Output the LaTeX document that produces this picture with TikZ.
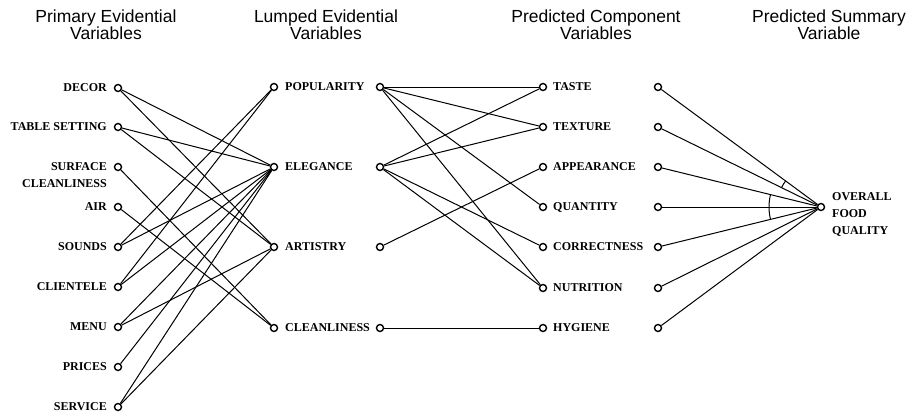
\documentclass[tikz,border=0pt]{standalone}
\usepackage{fontspec}
\setmainfont{Liberation Serif}
\newfontfamily\headfont{Liberation Sans}
\begin{document}
\begin{tikzpicture}[x=1pt,y=1pt,
  dot/.style={circle,draw,line width=1.4pt,minimum size=7pt,inner sep=0pt},
  lab/.style={font=\bfseries\fontsize{12}{17}\selectfont,inner sep=0pt},
  head/.style={font=\headfont\fontsize{17.5}{16}\selectfont,align=center,inner sep=0pt},
  edge/.style={line width=1pt},
  arcmark/.style={line width=1pt}]
\useasboundingbox (0,0) rectangle (916,-416);
% headings
\node[head] (h1) at (106,-25) {Primary Evidential\\Variables};
\node[head] (h2) at (326,-25) {Lumped Evidential\\Variables};
\node[head] (h3) at (596,-25) {Predicted Component\\Variables};
\node[head] (h4) at (829,-25) {Predicted Summary\\Variable};
% column 1
\foreach \n/\y in {p1/88,p2/127,p3/167,p4/207,p5/247,p6/287,p7/327,p8/367,p9/407}
  \node[dot] (\n) at (118,-\y) {};
\node[lab,anchor=east] (t1) at (107,-88) {DECOR};
\node[lab,anchor=east] (t2) at (107,-127) {TABLE SETTING};
\node[lab,anchor=east,align=right] (t3) at (107,-175.5) {SURFACE\\CLEANLINESS};
\node[lab,anchor=east] (t4) at (107,-207) {AIR};
\node[lab,anchor=east] (t5) at (107,-247) {SOUNDS};
\node[lab,anchor=east] (t6) at (107,-287) {CLIENTELE};
\node[lab,anchor=east] (t7) at (107,-327) {MENU};
\node[lab,anchor=east] (t8) at (107,-367) {PRICES};
\node[lab,anchor=east] (t9) at (107,-407) {SERVICE};
% column 2
\foreach \n/\y in {1/87,2/167,3/247,4/328}{
  \node[dot] (lL\n) at (274,-\y) {};
  \node[dot] (lR\n) at (380,-\y) {};}
\node[lab,anchor=west] (u1) at (285,-87) {POPULARITY};
\node[lab,anchor=west] (u2) at (285,-167) {ELEGANCE};
\node[lab,anchor=west] (u3) at (285,-247) {ARTISTRY};
\node[lab,anchor=west] (u4) at (285,-328) {CLEANLINESS};
% column 3 and 4
\foreach \n/\y in {1/87,2/127,3/167,4/207,5/247,6/288,7/328}{
  \node[dot] (c\n) at (543,-\y) {};
  \node[dot] (s\n) at (658,-\y) {};}
\node[lab,anchor=west] (v1) at (553,-87) {TASTE};
\node[lab,anchor=west] (v2) at (553,-127) {TEXTURE};
\node[lab,anchor=west] (v3) at (553,-167) {APPEARANCE};
\node[lab,anchor=west] (v4) at (553,-207) {QUANTITY};
\node[lab,anchor=west] (v5) at (553,-247) {CORRECTNESS};
\node[lab,anchor=west] (v6) at (553,-288) {NUTRITION};
\node[lab,anchor=west] (v7) at (553,-328) {HYGIENE};
\node[dot] (ov) at (821,-207) {};
\node[lab,anchor=north west,align=left] (ovl) at (832,-192) {OVERALL\\FOOD\\QUALITY};
% edges col1 -> col2
\foreach \a/\b in {p1/lL2,p1/lL3,p2/lL2,p2/lL3,p3/lL4,p4/lL4,p5/lL1,p5/lL2,p6/lL1,p6/lL2,p7/lL2,p7/lL3,p8/lL2,p9/lL2,p9/lL3}
  \draw[edge] (\a) -- (\b);
% edges col2 -> col3
\foreach \a/\b in {lR1/c1,lR1/c2,lR1/c4,lR1/c6,lR2/c1,lR2/c2,lR2/c5,lR2/c6,lR3/c3,lR4/c7}
  \draw[edge] (\a) -- (\b);
% edges col4 -> overall
\foreach \a in {s1,s2,s3,s4,s5,s6,s7}
  \draw[edge] (\a) -- (ov);
% angle marks
\draw[arcmark] ([shift={(143.5:44)}]ov.center) arc[start angle=143.5,end angle=154,radius=44];
\draw[arcmark] ([shift={(166:52)}]ov.center) arc[start angle=166,end angle=194,radius=52];
\end{tikzpicture}
\end{document}
